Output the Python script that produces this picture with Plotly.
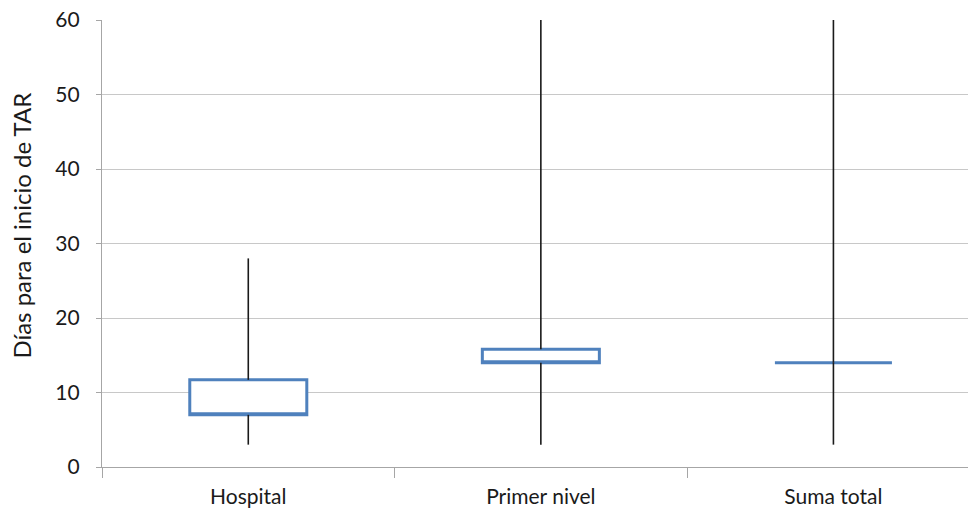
import plotly.graph_objects as go

categories = ["Hospital", "Primer nivel", "Suma total"]
whisker_low = [3, 3, 3]
whisker_high = [28, 60, 60]
q1_values = [7, 14, 14]
q3_values = [11.7, 15.8, 14]
y_ticks = [0, 10, 20, 30, 40, 50, 60]
y_title = "Días para el inicio de TAR"

fig = go.Figure()

# whiskers (black vertical lines), outside the boxes
wx, wy = [], []
for c, lo, a, b, hi in zip(categories, whisker_low, q1_values, q3_values, whisker_high):
    wx += [c, c, None, c, c, None]
    wy += [lo, a, None, b, hi, None]
fig.add_trace(go.Scatter(x=wx, y=wy, mode="lines",
                         line=dict(color="#1a1a1a", width=1.6),
                         hoverinfo="skip", showlegend=False, cliponaxis=False))

# boxes (blue outline, white fill)
fig.add_trace(go.Box(
    x=categories,
    q1=q1_values,
    median=q1_values,
    q3=q3_values,
    lowerfence=q1_values,
    upperfence=q3_values,
    width=0.4,
    fillcolor="white",
    line=dict(color="#4f81bd", width=3),
    whiskerwidth=0,
    showlegend=False,
))

fig.add_annotation(
    text=y_title, textangle=-90,
    xref="paper", yref="paper",
    x=-0.0924, y=0.54, xanchor="center", yanchor="middle",
    showarrow=False, font=dict(size=24),
)

fig.update_layout(
    width=968, height=512,
    margin=dict(l=102, r=0, t=20, b=45, autoexpand=False),
    paper_bgcolor="white", plot_bgcolor="white",
    font=dict(family="Lato, Open Sans, sans-serif", size=21, color="#1a1a1a"),
    xaxis=dict(
        type="category",
        range=[-0.5, 2.46],
        showline=True, linecolor="#a6a6a6", linewidth=1.2,
        ticks="outside", tickson="boundaries", ticklen=10,
        tickcolor="#a6a6a6", tickwidth=1.2,
        showgrid=False,
        tickfont=dict(size=21),
        ticklabelstandoff=11,
        automargin=False,
    ),
    yaxis=dict(
        range=[0, 60],
        tickvals=y_ticks,
        showline=True, linecolor="#a6a6a6", linewidth=1.2,
        ticks="outside", ticklen=5, tickcolor="#a6a6a6",
        showgrid=True, gridcolor="#c8c8c8", gridwidth=1.2,
        zeroline=False,
        tickfont=dict(size=21),
        ticklabelstandoff=12,
        ticklabeloverflow="allow",
        automargin=False,
    ),
)

fig.write_html("out.html", config={"displayModeBar": False},
               post_script="document.body.style.margin='0';")
